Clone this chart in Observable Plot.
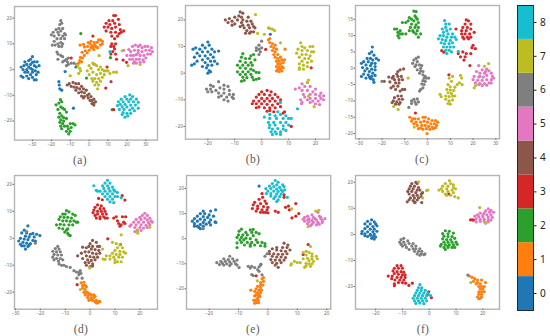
<!DOCTYPE html>
<html>
<head>
<meta charset="utf-8">
<script src="https://cdn.jsdelivr.net/npm/d3@7"></script>
<script src="https://cdn.jsdelivr.net/npm/@observablehq/plot@0.6"></script>
<style>
html,body{margin:0;padding:0;background:#fff;width:550px;height:336px;overflow:hidden}
#root{position:relative;width:550px;height:336px}
.p{position:absolute}
.cap{position:absolute;font-family:"Liberation Serif",serif;font-size:11.5px;color:#5a5a5a;transform:translateX(-50%);letter-spacing:.4px;line-height:12px}
</style>
</head>
<body>
<div id="root"></div>
<script>
const classes = [0,1,2,3,4,5,6,7,8];
const colors = ["#1f77b4","#ff7f0e","#2ca02c","#d62728","#8c564b","#e377c2","#7f7f7f","#bcbd22","#17becf"];

// Panel (a)
const a0 = [[-35,-3],[-33,-2.5],[-36,1],[-34,3],[-33,0],[-31,2],[-30,5],[-31,4],[-29,3],[-28,1],[-26.5,1.5],[-27,-1],[-28,-2],[-30,-3],[-29,-4],[-31,-2],[-32,1],[-30,0],[-29,1.5],[-33,2],[-35,0],[-34,-1],[-36,-2.5],[-32,-3.5],[-28,-4],[-27.5,3],[-32,3.5],[-30,-1],[-31,.5],[-28.5,-.5],[-34.5,1.5],[-32.5,-1],[-30,2.8],[-16,-4.7],[-15.8,-6],[-15.5,-7.5],[-14.5,-8],[-12.7,-.8],[-7,1],[-8.3,-15]];
const a1 = [[-6.7,2],[-5.5,2.5],[-5,3.5],[-4,3],[-4.6,4.7],[-3.5,4.5],[-3.7,6.7],[-2.5,5.5],[-2,7.3],[-1,6.5],[-.8,9],[0,7.5],[.5,10],[1,8.5],[1.6,9.3],[2.5,7.8],[2.7,10.5],[3.5,9],[4.2,10.6],[4.5,8.5],[5,11.5],[6,11.5],[6,9.5],[7,10],[7,11],[-4.8,9.5],[-3,9.8],[-.5,10.5],[1,11],[2,8.5],[-2.5,8.8],[3,9.5]];
const a2 = [[-15.2,-11.7],[-14.5,-12.5],[-16,-13],[-17.5,-13.7],[-15,-14.5],[-14,-15],[-16.5,-15.5],[-13,-15.5],[-15.5,-17],[-12,-16.5],[-14.5,-18],[-16,-18.5],[-13.5,-18.7],[-15,-19.5],[-13.5,-20],[-12,-19],[-15.5,-20.5],[-14,-21],[-15,-22],[-13,-22],[-10,-21],[-8.5,-21],[-7.5,-21.5],[-11.5,-22],[-14.5,-23],[-11,-23],[-12,-24],[-9.5,-22.5],[-10.8,-25],[-10,-24],[-4.4,14],[-1.4,-3.3],[11.3,4.6],[12.2,-15.6]];
const a3 = [[13,21],[14,21],[10.5,19],[12.5,19],[15.5,19.5],[9,18],[11,17.5],[13.5,18],[16,17.5],[8,16.5],[10,16.5],[12,16],[14,16.5],[16.5,15.5],[9,15],[11.5,14.5],[14,14.5],[17,14.5],[18.3,15],[12,13],[15,13],[16,14],[13.5,12],[14,10],[12,10],[13,9],[11.5,9],[13.5,8],[12.5,7],[11.5,6],[14,6],[14.5,4],[2,13],[-9.5,4.5],[9.5,1],[8.8,-7.2],[13,-15.6],[18,3.7],[19.8,2.8]];
const a4 = [[-11.6,-6],[-10.5,-5.5],[-9.5,-6.5],[-8.5,-5],[-8,-6.8],[-7,-5.5],[-6.5,-7],[-5.5,-5.5],[-5,-7.5],[-4,-6.5],[-7,-8],[-5.5,-9],[-4,-8.7],[-3,-7.5],[-2.5,-9],[-1.5,-8],[-4,-10.3],[-2.5,-10.5],[-1,-10],[0,-9.5],[-.5,-11],[1,-10.5],[.5,-12],[1.5,-12],[2.5,-11.5],[2.5,-13],[3.4,-12.5],[1.5,-13.2],[2.5,-13.8],[-3,-11],[11.6,-4.7]];
const a5 = [[18.3,7.5],[21,7.8],[22,7],[23,9],[24.5,9.5],[26,9],[27,9.5],[28,8.5],[29.5,9],[31,9],[33,8.5],[33.5,7],[32,7.5],[30,7.5],[28,7],[26,7.5],[24,7.5],[22,5.5],[23.5,5.5],[25,5.8],[27,5.5],[29,5.5],[31,6],[32.5,6],[21.5,4],[23,4],[25,4],[26.5,4],[28.5,3.8],[30,4.5],[23.5,2.5],[25,2.5],[24,3],[27,2.8],[29,3],[20,5.5],[26,6.5]];
const a6 = [[-15,19],[-14.5,18],[-15.5,17.5],[-14,16],[-16,16],[-17.5,15.5],[-15,15],[-19,14.5],[-16.5,14.5],[-20,13.5],[-13,14],[-16,13.5],[-14,13],[-18.5,13],[-12.5,13.5],[-15,12],[-17,12],[-13,12],[-18.5,11],[-15,10.5],[-16.5,10],[-14,10],[-19.5,9.5],[-18,9.5],[-14.5,9],[-16,9],[-17,6.8],[-16.5,6],[-15,5.5],[-14,5],[-16.5,4],[-13,3.5],[-12,4],[-11,4.5],[-14,3],[-11.5,3],[-11,2],[-9.5,2.5],[-8,2.5],[-12,1.5],[2.6,2.1]];
const a7 = [[-6,1.5],[-5,.5],[-4.5,-.5],[-5.5,-1.5],[-1,-.5],[0,1.5],[1,.5],[2,2.5],[3,2],[4,1.5],[5.3,5.4],[5,0],[6,1],[7,0],[8,-.5],[9,-.5],[10,-.5],[13,-1],[14.5,-1],[11,-1.5],[0,-2],[2,-1],[4,-2],[6,-1.5],[8,-2],[1.5,-3.5],[3,-3.5],[5,-3.5],[7,-3],[2,-4.5],[4,-5],[6,-4.5],[3,-6],[5,-6],[4.5,-7.5],[17.5,7.3],[20.6,1.5],[27,2],[-10,-2.4]];
const a8 = [[21.5,-9.8],[23,-10.5],[19,-10.5],[17,-11.5],[20,-11.5],[22,-11.5],[25,-11.5],[15.5,-12.5],[18,-12.5],[21,-12.5],[23.5,-12.5],[26,-12.7],[16.5,-13.5],[19,-13.5],[22,-13.8],[24.5,-13.8],[15,-14],[17.5,-14.5],[20,-14.5],[23,-15],[26,-15],[16,-15.5],[18.5,-15.5],[21.5,-15.7],[24,-16],[18,-16.7],[20,-17],[22,-17],[19,-18.5],[20.5,-18],[17.5,-17.5],[11,7]];

// Panel (b)
const b0 = [[-20,11.7],[-19.5,10.5],[-22,10.5],[-24.5,9.5],[-25.5,9],[-23,9],[-21,9.5],[-18.5,9],[-17.5,8],[-20,8],[-22,8],[-16,8.3],[-24,7.5],[-19,7],[-21,6.5],[-23,6.5],[-25,6],[-18,6],[-20,5.5],[-22,5],[-24,4.5],[-19,4.5],[-21,4],[-17.5,4.5],[-25,3.5],[-26,3],[-20,3],[-18.5,3],[-22,2.5],[-16.5,3.5],[-20.5,2],[-19.5,1],[-20,0],[-19,.5],[3.2,14.6]];
const b1 = [[2.5,12.5],[3,13],[3,11.5],[4,11],[3.5,10],[4.5,9.5],[5,10.5],[4,8.5],[5,8],[5.5,9],[8.7,9],[4.5,7],[6,7],[5,6],[6,5.5],[7,6],[5.5,4.5],[6.5,4.5],[7.5,5],[8.5,5],[6,3.5],[7,3.5],[8,4],[5.5,2.5],[6.5,2.5],[7.5,2.5],[6,1.5],[7,1.5],[5.5,.8],[6.5,.6],[7.5,.8],[8,2]];
const b2 = [[-7,7.3],[-4,6.5],[-3,7],[-7.5,6],[-6,5.5],[-4.5,5.5],[-8,4.5],[-6,4],[-4,4],[-2.5,5],[-9,3],[-7,3],[-5,3],[-3.5,3],[-8,2],[-6,1.8],[-4,1.5],[-9,.5],[-7,.5],[-5,.5],[-3,1],[-8,-.5],[-6,-.5],[-4,-.5],[-2,.3],[-1,.2],[-7,-1.5],[-5.5,-1.7],[-3.5,-1.5],[-7.5,-3],[-6.5,-2.7],[-3,-2.5],[-2,-2.3],[-1,-2]];
const b3 = [[0,-7],[2,-6.5],[3.5,-7],[-1,-8],[1,-8],[3,-8.3],[5,-8],[-2,-9],[0,-9.5],[2,-9.5],[4,-9.5],[6,-9],[-3,-10.5],[-1,-10.5],[1,-10.5],[3,-10.5],[5,-10.5],[7,-10],[-3.5,-11.5],[-2,-11.5],[0,-11.5],[2,-11.7],[4,-12],[6,-11.5],[-2,-13],[-1,-12.7],[1,-13],[3,-13],[5,-13],[3,-14],[2,-14.3],[4.5,-14.5],[1.5,8.9],[7,-12.6],[8.5,-14.5],[8,-15],[11,-20],[18.4,2]];
const b4 = [[-8,23],[-7,22.5],[-8.5,21.5],[-7.5,21],[-10,21],[-12,20.5],[-13.5,20],[-9,20],[-11,19.5],[-7,20],[-5,21],[-12.5,19],[-10,18.5],[-7.5,19],[-5.5,19.5],[-4,19.5],[-3.5,18.5],[-11,18],[-7,18],[-5,18],[-3,17.5],[-6.5,17],[-4.5,17],[-2.5,17],[-5.5,16],[-4,15.5],[-3,15.5],[-6,15],[-4.5,15],[-8,17.5]];
const b5 = [[17,-3.5],[15,-4],[16,-5],[12.5,-6],[14,-5.5],[18,-5],[20,-6],[15,-6.5],[17,-6.5],[19,-7],[22,-7.5],[15.5,-8],[18,-8],[20,-8],[21.5,-8.5],[23,-8.5],[16,-9],[18,-9.5],[20,-9.5],[22,-9.5],[23,-10],[14.5,-10],[17,-10],[19,-10.5],[21,-10.5],[15,-11],[14.8,-11.5],[20,-11.5],[18,-11],[21.5,-11.8]];
const b6 = [[-16,-3.2],[-14,-4.5],[-12.5,-5],[-19,-4.5],[-18,-5],[-15.5,-5.5],[-20.5,-6],[-19,-6],[-17,-6.5],[-14,-6],[-12,-6.5],[-20,-7],[-18.5,-7],[-16,-7.5],[-14,-7.5],[-12,-8],[-10.5,-8],[-15,-8.5],[-13,-9],[-11,-9],[-16,-9],[-14,-10],[-12.5,-10.5],[-10.5,-9.5],[-0,12],[-1,10.5],[-2,9.5],[-1,9],[-2,8.5],[-.5,8],[-1,7],[0,9.5]];
const b7 = [[14.5,11.4],[15,10],[16,9.5],[18,10],[19,10],[13.5,9],[15,8.5],[17,8.5],[18.5,8],[19.3,8],[13,7.5],[15,7],[16.5,7],[18,6.5],[14,6],[16,5.5],[17.5,5.5],[15,4.5],[17,4],[18.5,4.5],[14,3.5],[15.5,3],[17,2.5],[14,2],[14,1.5],[15.5,1.5],[-2.3,22],[-1.5,14.9],[1,14.6],[2.5,17],[3,16.8],[4,16.5],[4.8,16],[7,11.4],[17.4,-2.6],[17,-3.5],[17.4,-8.6],[19.5,-12.6]];
const b8 = [[6,-14.5],[3,-15.5],[5,-16],[7,-15.5],[9,-16],[1,-16.5],[3,-17],[5.5,-17],[8,-17],[10,-17],[11,-17],[2.5,-18.5],[4.5,-18.5],[7,-18.5],[9,-18.5],[3,-19.5],[5,-19.5],[8,-19.8],[10,-19.5],[2.8,-20.5],[4,-21],[6,-20.8],[8,-21],[3.5,-22],[5,-22],[7,-22],[9,-21.5],[4,-23],[5.5,-22.8],[7,-23],[13.3,-13.4],[7,-11]];

// Panel (c)
const c0 = [[-24.2,6.5],[-24.5,5],[-25.5,4.5],[-23.5,4],[-25,3],[-26.5,3],[-24,2.5],[-22.5,3],[-28,2],[-26,2],[-24.5,1.5],[-23,1.5],[-29,1.5],[-27,1],[-25,.8],[-23,.5],[-21.5,2.5],[-28.5,.2],[-26.5,-.1],[-24.5,-.3],[-23,-.5],[-27.5,-.8],[-25.5,-1],[-24,-1.5],[-28,-1.8],[-26,-2],[-24.5,-2.5],[-23,-2.2],[-29,-2.5],[-25,-3.2],[-27,-3],[-23.8,-3.5],[-23.5,-4.3],[-25.5,-2.7]];
const c1 = [[-7.8,-15],[-6.5,-15.5],[-5.5,-15.5],[-4,-15.5],[-2,-15],[-1,-15],[.5,-15.5],[2,-16],[3.5,-16],[4.5,-16.5],[-7,-16.2],[-5,-16.5],[-3,-16.5],[-1.5,-16.2],[0,-16.5],[1.5,-17],[3,-17],[4,-17.5],[-6,-17],[-4.5,-17.5],[-2.5,-17.5],[-1,-17.5],[.5,-17.8],[2,-18],[3.5,-18.2],[-4,-18.5],[-2,-18.7],[-.5,-18.5],[1,-18.7],[2.5,-18.5],[-3,-18.3],[-.2,-20]];
const c2 = [[-6,17.5],[-5,17.3],[-5.5,16],[-5,15.5],[-8,15.5],[-7,15],[-4.5,15],[-8.5,14.5],[-6,14.5],[-4,14],[-9.5,14],[-11,14],[-7,13.5],[-5,13.3],[-7.5,12.5],[-5.5,12.5],[-4,12.5],[-6.5,11.5],[-4.5,11.5],[-14.5,12],[-13.5,12],[-13,11],[-12,11.5],[-8,11.5],[-6,11],[-5,10.5],[-13,10],[-12,10.5],[-11,10.5],[-9.5,10.5],[-4,9.5],[-3,10.5],[-12.5,9.3]];
const c3 = [[17,14.8],[18,14.5],[16.5,13.5],[19,13.5],[12.5,12],[15.5,12.5],[17.5,12.5],[15,11.5],[17,11.5],[19,12],[20.5,11],[15,10.5],[16.5,10.5],[18.5,10.5],[15.5,9.5],[17.5,9.5],[19,9.5],[16,9],[18,9],[20,7],[19.5,6.3],[21,6],[15.5,5],[13.5,4.5],[17,4.5],[19,4.5],[14.5,3.5],[16.5,3.5],[16,2.5],[18.6,.8],[9.4,-2],[-5.3,-13.7],[6.2,5.4],[7.2,4.9]];
const c4 = [[-12,-.5],[-10.5,-.2],[-13,-1],[-13.5,-1.8],[-15,-2.5],[-13,-2.5],[-17,-2.7],[-15.5,-3],[-11.5,-2.5],[-14.5,-3.5],[-12.5,-3.5],[-19,-4],[-16.5,-4.2],[-14,-4.5],[-12.5,-4.5],[-11,-3.5],[-15,-5.5],[-13,-5.5],[-16,-6],[-14,-6.5],[-11,-6.5],[-10,-6.5],[-12,-7],[-13,-8.5],[-11.5,-8.5],[-14.5,-9],[-12.5,-9.5],[-11,-9.5],[-15,-10],[-13.5,-10.3],[-12,-10.5],[-14,-11],[-12.5,-11],[-15.5,-10.5]];
const c5 = [[22.5,.8],[24,-.5],[26,-.3],[21.5,-1],[23,-1.5],[25,-1.5],[27,-.8],[28,-1.5],[20.5,-2.5],[22.5,-2.7],[24.5,-2.7],[26,-2.2],[28.5,-2.5],[20,-3.5],[22,-3.7],[24,-3.7],[26,-3.5],[28,-3.5],[29,-3],[21,-4.5],[23,-4.7],[25,-4.7],[27,-4.5],[28,-4.5],[24,-5.3],[26,-5.2],[22.5,-5],[23,-2.5],[25.5,-1]];
const c6 = [[-4,3.4],[-5,3],[-6,2.5],[-4.5,2],[-6.5,1.5],[-5,1],[-3.5,1],[-2.5,.8],[-5.5,.5],[-3,0],[-4.5,-.5],[-3,-.8],[-2,-1],[-3.5,-1.5],[-2,-2],[-1,-2.5],[-1.5,-3],[-.5,-3],[.5,-3],[-2,-3.8],[-1,-4],[-2.5,-4.8],[-1.5,-5],[-2,-6],[-3,-6.5],[-3.5,-7],[-6,-9.5],[-4.5,-9.4],[-7,-10],[-5.5,-10.3],[-4,-10.3],[-7,-10.8],[-5,-11],[-8.2,-12],[-20,-4]];
const c7 = [[11,-2.5],[14.5,-2.2],[15,-3],[9.5,-3],[10.5,-4],[14,-4.5],[15.2,-5],[13,-5],[9,-5],[10,-5.7],[12,-5.8],[8.5,-6.5],[10,-6.7],[11.5,-6.8],[9,-7.5],[10.5,-7.7],[5.5,-8],[6,-8.7],[8,-8.5],[9.5,-8.7],[11,-8.5],[12,-8.5],[8,-9.5],[9.5,-10],[11,-9.7],[10,-11],[9,-10.8],[-8.5,-3],[-14.8,-11.7],[-12.9,-12.6],[25,.6],[26.8,1.4],[21.1,-5.3],[20.5,-6],[-5.8,-18]];
const c8 = [[7.5,14.6],[8,13.5],[8,12.5],[9.5,13.5],[6.5,12],[8.5,11.5],[10,12],[7,11],[9,10.5],[11,10.5],[5.5,10],[7,10],[8.5,9.5],[10.5,9.5],[12,9.5],[4.8,9],[6.5,8.8],[8,8.5],[10,8.5],[12.6,8.8],[6,7.8],[7.5,7.5],[9.5,7.5],[11,7.8],[7,6.5],[8.5,6.5],[10,6.5],[11.5,6.5],[8,5.5],[9.5,5.5],[8.5,4.5],[10.5,5],[13.5,5.2]];

// Panel (d)
const d0 = [[-25,4.6],[-26.5,3],[-27.5,2],[-25.5,2],[-24,1.5],[-23,1.8],[-21.5,1.5],[-20.2,1],[-26,.8],[-24.5,.5],[-22.5,.5],[-28,0],[-26.5,-.3],[-25,-.5],[-23,-.8],[-28.7,-1],[-27,-1.5],[-25.5,-1.8],[-24,-2],[-22,-1],[-28,-2.2],[-26.5,-2.8],[-25,-3],[-26,-4],[-24.5,-2.5],[-27.5,-2.8]];
const d1 = [[-3.6,-16.5],[-2.5,-16.3],[-3,-17.5],[-2,-17.5],[-3,-18.5],[-2,-19],[-1.5,-18],[-2.5,-20],[-1.2,-20],[-.3,-20.5],[-2,-21],[-.8,-21.2],[.5,-21],[1.5,-21],[-1,-22],[.5,-22],[1.5,-22],[2,-21.5],[0,-22.7],[1,-23],[2,-23.5],[2.5,-23],[3,-24],[3.5,-23.5],[3.9,-23.5],[2.5,-24],[-.5,-23],[-1.8,-20.2]];
const d2 = [[-9.5,10.3],[-8.5,9.8],[-11,9],[-10,9],[-7,9],[-6,8.5],[-12,8],[-10.5,7.8],[-9,7.8],[-7.5,7.5],[-12.5,7],[-11,6.5],[-9.5,6.5],[-8,6.3],[-6.5,6.5],[-5.5,6],[-13.5,5],[-12,5.2],[-10.5,5],[-8.5,5],[-7,5],[-12.5,3.8],[-11,3.5],[-9,3.5],[-10.2,2.3],[-9,1.8],[-8.5,1.2],[-8,1],[-9.5,3],[-5,6]];
const d3 = [[3,12.4],[4.5,12],[2,11.5],[4,11],[5.5,11],[1.5,10.5],[3,10],[4.5,10],[6,10],[1.2,9.5],[3,9],[5,9],[6.5,9],[2,8.5],[4,8],[5.5,8],[2.5,7.5],[4,7.3],[6,7.5],[6.9,7.5],[9.5,7.5],[10.5,8],[13,8],[14.3,8],[11,6.5],[13.5,6],[11.5,5.5],[12.5,5],[14,5.5],[12,4.5],[3.4,14.8],[4.9,14.3],[12.9,15.8],[14,14.2],[7.1,-.2],[12.2,-2.3],[-5.2,-17.2]];
const d4 = [[1,-.8],[2.5,-1.5],[0,-2],[-.5,-3],[1,-3],[3,-3],[3.8,-3],[-3,-3.3],[-1.5,-3.5],[.5,-4],[2,-4.2],[3.5,-4.5],[-2,-5],[-.5,-5],[1,-5.5],[2.5,-5.8],[3.9,-5.5],[-1.5,-6.5],[0,-6.8],[1.5,-7],[3,-7],[-3,-7.5],[-1,-8],[.5,-8.2],[2,-8],[-2,-9],[-.5,-9],[1,-9.5],[-1.5,-10],[-0,-10.5],[1,-10.3],[-3.5,-5.5],[-5,-6.5]];
const d5 = [[22,9.3],[21,8.5],[23,8.5],[20,7.8],[22,7.5],[24,7.5],[18.5,7],[20.5,7],[23,6.8],[24.5,6.5],[17.5,6],[19.5,6],[21.5,6],[23.5,5.8],[25,6],[16.5,5],[18.5,5],[20.5,5],[22.5,4.8],[24,5],[16,4.5],[18,4],[20,4],[21.5,3.8],[23,4],[19,3],[20.5,2.9],[18,2.5]];
const d6 = [[-13,-3],[-14,-3.8],[-12.5,-4],[-15,-4.8],[-13.5,-5],[-12,-5],[-14.5,-6],[-13,-6.2],[-11.5,-6.2],[-15,-7],[-13.5,-7.5],[-12,-7.5],[-14.5,-8],[-12.7,-8.5],[-11,-8],[-12.5,-9.5],[-11.5,-10],[-10.5,-10],[-9.5,-10.5],[-8,-10.8],[-6.5,-12],[-5.5,-12.5],[-4.5,-12.7],[-4,-12],[-3.7,-13],[-4.5,-13.5],[-5.3,-14.8],[-3.2,-14.8],[-25.5,2.5],[-22,-1.8]];
const d7 = [[12.5,1.3],[9,-1.5],[10.5,-2],[12,-2.5],[5,-4],[11,-3.5],[13,-3.5],[10,-4.5],[12,-4.8],[13.5,-5],[9,-5.5],[10.5,-6],[12,-6],[14.2,-5.5],[6.5,-6.5],[8,-6.5],[9.5,-7],[11.5,-7],[13,-7],[5.2,-7.7],[6,-7.8],[8,-7.7],[10,-8],[11,-8.7],[12.5,-8.7],[10,-9],[-.2,-11],[-3.9,-19],[19.2,1.9],[24,4.1],[19,2.6]];
const d8 = [[7,21.5],[6,20.5],[8,20.5],[5,19.5],[7,19.5],[9,19],[5.5,18.5],[7.5,18.5],[9.5,18],[2.5,17.8],[4,17.5],[6,17.5],[8,17.5],[10,17.5],[5,16.5],[7,16.5],[9,16.5],[11,17],[6,15.5],[8,15.5],[10,15.5],[7,14.5],[9,14.5],[8,13.5],[9.5,13.2],[11,15.5],[3,17.5],[12.5,15],[1.5,19.5]];

// Panel (e)
const e0 = [[-19.5,11],[-22,11],[-17.8,11.5],[-23,10],[-21.5,10],[-20,9.5],[-24,9],[-22,8.8],[-20.5,8.5],[-18.5,9],[-25,8],[-23,7.8],[-21.5,7.5],[-19.5,7.5],[-25.7,7],[-24,7],[-22,6.5],[-20,6.5],[-18,6.7],[-17.7,6.5],[-25,6],[-23,5.7],[-21,5.8],[-19.5,5.5],[-24,5],[-22,5],[-23.5,4.5],[-25,5],[-23,4],[-3,21],[-2.4,-10.2]];
const e1 = [[-1.5,-15.5],[-2,-16],[-1.5,-17],[-2.5,-17.5],[-2.5,-18.5],[-1.7,-18.5],[-3.5,-19],[-2.5,-19.5],[-5.8,-20.5],[-4,-20],[-3,-20.5],[-2.2,-20.5],[-4.5,-21],[-3.5,-21.5],[-2.5,-21.5],[-4,-22.3],[-3,-22.5],[-4.5,-22.8],[-3.5,-23.5],[-2.7,-23],[-4,-24.5],[-3.3,-24.5],[-4.8,-24.5],[-4,-25.5],[-3.2,-25.5],[-4.5,-25.7]];
const e2 = [[-9,3.8],[-6,3.5],[-5,3.7],[-9.8,3],[-7.5,2.5],[-5.5,2.5],[-4,2.5],[-3,2],[-10,1.5],[-8.5,1.5],[-7,1.5],[-5,1.2],[-10.5,.5],[-9,.5],[-7.5,.2],[-6,0],[-9.5,-.5],[-8.2,-.5],[-4,-.5],[-9,-1.5],[-7,-1.5],[-5.5,-1.5],[-10.5,-1.7],[-3.5,-1.5],[-2,-1.5],[-8,-2.5],[-6,-2.3],[-4.5,-2.5],[-1,-2],[-10.5,-3.5],[-6,-3],[-2.5,-2.8],[-1,-3]];
const e3 = [[-3,15.7],[-1,15],[-4.5,14.5],[-2.5,14],[-.5,14],[-5,13.5],[-3.5,13],[-1.5,12.8],[0,12.5],[-5.3,12],[-3.5,12],[-2,11.5],[-.3,11.5],[-4,11],[-2.5,10.5],[-.8,10.5],[0,10.3],[-1.5,10.5],[-2,18],[-1.8,16.5],[2.5,11],[3.5,10.5],[6,12.5],[7,13],[7.3,11.5],[8.2,8.3],[9.5,9],[10.5,10],[9.5,14],[5.5,17.5],[5.5,16.5],[13.7,-2.3],[12,-6.3],[-4,-14.8]];
const e4 = [[5.5,-1.8],[6.8,-2.5],[3,-3.5],[5,-3.5],[6.5,-3.5],[1.5,-4],[3,-4.5],[4.5,-4.8],[6,-5],[7.5,-4.5],[.5,-6],[2,-6],[3.5,-6.2],[5,-6.2],[6.5,-6],[1.5,-7],[3,-7.3],[4.5,-7.3],[6,-7.5],[1,-8.3],[2.5,-8.5],[4,-8.5],[5.5,-8.5],[1.5,-9.5],[3,-9.8],[4.5,-9.5],[2.5,-10.5],[3.5,-11.4],[.5,-5]];
const e5 = [[17,10.5],[15,9.5],[17.5,9],[18,8.5],[13.5,9],[15.5,8.5],[12.5,8.5],[14,8],[16,8],[18,8],[19.4,8],[12,7.8],[13.5,7.5],[15,7.3],[16.5,7.5],[18.5,7.3],[12.5,7],[14,6.8],[15.5,6.5],[17,6.5],[18.5,6.5],[13.5,6],[15,5.8],[16.5,5.5],[14.5,5.2],[17.5,5.8]];
const e6 = [[-13,-7],[-15,-8],[-13.5,-8.3],[-12,-8],[-10.5,-8.5],[-16,-9],[-14.5,-9],[-13,-9.2],[-11.5,-9],[-17.4,-9.5],[-15.5,-9.8],[-14,-10],[-12.5,-10],[-11,-10],[-16.5,-10.3],[-15,-10.5],[-13,-10.7],[-10.5,-10.5],[-9.8,-11.5],[-6.7,-11],[-5.5,-11],[-4.5,-11.5],[-3,-11.2],[-2.5,-10.5],[-6,-11.7],[-3.5,-12.3],[-3,-13],[-5.5,-14.3],[-5,-14.7],[-2,-14.4],[-22,4],[-1,-7],[-.3,-6]];
const e7 = [[14.5,-3.1],[13,-5],[12,-5.5],[14,-5.5],[15,-6],[13,-6.5],[15,-7],[16.5,-7],[13.5,-7.8],[15,-8],[16.8,-8],[12,-8],[14,-8.7],[15.5,-9],[13,-9.8],[14,-10],[15,-10],[13,-10.8],[14.5,-11],[12.5,-11.4],[9,-9],[10,-9.5],[11,-9.5],[8,-10],[7.8,-10.5],[8.1,11.9],[13.7,4.8],[16.3,11],[17.3,11.3],[-3.6,-16.8]];
const e8 = [[2.5,23.2],[3.5,22.5],[1.5,22],[3,21.5],[5,21.5],[.5,21],[2,20.8],[4,20.5],[5.5,20.8],[-.7,20],[1,20],[3,19.8],[4.5,19.5],[5.7,19.5],[0,19],[2,19],[3.5,18.8],[5,18.8],[-.5,18],[1,18],[3,17.8],[4.5,17.8],[1,17],[2.5,16.8],[4,16.8],[2,16],[3.5,15.5],[3,14.8],[6.6,16.5]];

// Panel (f)
const f0 = [[-21.5,5.6],[-23,5],[-20.5,4.8],[-24,4],[-22,4],[-20,4],[-23,3],[-21,3],[-19.5,3.3],[-24,2.2],[-22,2],[-20.5,2],[-25,1.2],[-23,1],[-21,1],[-19.5,1.2],[-25.2,.3],[-24,.2],[-22,0],[-20.5,0],[-24,-.5],[-23,-.8],[-21,-.8],[-20,-1],[-20.5,-1.8],[-21.5,-1.5],[-22,-.3],[-5.3,12.2]];
const f1 = [[15,-16],[16,-16.5],[17,-17],[16.5,-18],[18,-17.5],[19.5,-17.5],[18,-18.5],[19,-19],[21,-18.5],[18.5,-20],[19.5,-20],[19,-21],[20,-21],[20.5,-20],[18.5,-22],[19.5,-22],[20.5,-22],[18.5,-23],[19.5,-23],[18,-24],[19,-24.5],[18.5,-24.7],[19.5,-24],[17.5,-19]];
const f2 = [[6,1.4],[7.5,1.2],[5,.3],[7,.2],[9,.5],[5.5,-.7],[7,-.8],[8.5,-.8],[5,-1.7],[6.5,-2],[8,-2],[9.5,-1.5],[5.5,-3],[7,-3],[8.5,-3],[10,-3],[4.5,-3.8],[6,-4],[7.5,-4],[9,-4],[10.4,-3.8],[4.2,-4.5],[5.5,-5],[7,-5],[8.5,-5],[6,-5.8],[9.5,-5],[7,-4.5]];
const f3 = [[-12,-12],[-10.5,-12],[-13,-13],[-11.5,-13],[-10,-13],[-13.5,-14],[-12,-14.3],[-10.5,-14.3],[-9.5,-14.5],[-13,-15],[-11.5,-15.3],[-10,-15.5],[-9,-15.5],[-15.3,-16],[-13.8,-16],[-12,-16.5],[-10.5,-16.5],[-9,-16.5],[-14,-17],[-12.8,-17.5],[-11,-17.5],[-9.5,-17.5],[-11.5,-18.5],[-10,-18.5],[-8.8,-18.7],[-13,-19],[-13,-19.7],[-7.6,-19.6],[-6.3,-18.7],[15.4,5.6],[16,5.6],[16.5,5.5],[7.3,15.5],[-.2,-22],[.8,-24.3],[-.5,-23]];
const f4 = [[-5,20],[-6.5,19.5],[-4.5,19.5],[-7,18.5],[-5.5,18.5],[-4,18],[-7.5,17.5],[-6,17.5],[-4.5,17],[-3.5,17],[-8,16.5],[-6.5,16.5],[-5,16],[-3,15.5],[-2.5,16],[-7.5,15.5],[-6,15],[-4.5,15],[-7,14],[-5.5,14],[-4,14],[-3,14.5],[-7.5,13.3],[-6,13],[-4.5,13.2],[-8.2,12.5],[-5.5,12.3],[-2.8,12.2]];
const f5 = [[22,9.8],[23,9.2],[21,9],[22.5,8.5],[19,8.2],[20.5,8.2],[24,8.5],[18,7.5],[20,7.5],[21.5,7.5],[23,7.5],[17,7],[18.5,6.8],[20,6.8],[22,6.5],[23.5,6.5],[17.5,6],[19,5.8],[20.5,5.8],[22,5.5],[23,5.5],[19,5],[20.5,5],[22,4.8],[21,4.3],[17.5,4.8]];
const f6 = [[-10.5,-2],[-9.5,-1.5],[-11,-3],[-9.5,-3],[-8,-2.5],[-10.5,-3.8],[-9,-4],[-7.5,-3.5],[-6,-3.5],[-10,-4.5],[-8.5,-5],[-6.5,-4.5],[-5,-4.5],[-7.5,-5.8],[-6,-5.5],[-5,-5.5],[-3.5,-5.5],[-5.5,-6.5],[-4,-6.5],[-2.8,-6.5],[-4.5,-7.5],[-3,-7.5],[-2,-7.8],[-1.6,-7.5],[-3.5,-8],[14.4,-15.6]];
const f7 = [[7.5,20.6],[6,19.5],[8,19.5],[9,19],[5,18.5],[7,18.5],[9,18],[4.5,17.5],[6.5,17.5],[8.5,17],[9.8,17.5],[3.6,17],[5,16.5],[7,16.5],[9,16],[6,15.5],[8,15],[6.5,15],[9.5,14.5],[10.8,14],[-4,20.2],[-1,16.8],[-.5,17],[-2.5,14],[18.8,10.3],[21,4.5],[15.5,-18.5]];
const f8 = [[-3.5,-19.3],[-4,-20.5],[-2.8,-20.5],[-4.5,-21.5],[-3,-21.5],[-1.5,-21.5],[-5,-22.5],[-3.5,-22.5],[-2,-22.5],[-.5,-22.5],[-5.5,-23.5],[-4,-23.5],[-2.5,-23.5],[-1,-23.5],[-6,-24.5],[-4.5,-24.5],[-3,-24.5],[-1.5,-24.5],[-5.5,-25.5],[-4,-25.5],[-2.5,-25.5],[-1,-25.5],[-5,-26.5],[-3.5,-26.3],[-2,-26.6],[.5,-23.5]];

const xTicksA = [-30,-20,-10,0,10,20,30];
const xTicksD = [-30,-20,-10,0,10,20];
const xTicksShort = [-20,-10,0,10,20];
const yTicksAll = [20,10,0,-10,-20];
const yTicksC = [15,10,5,0,-5,-10,-15,-20];
const captions = ["(a)","(b)","(c)","(d)","(e)","(f)"];

const panels = [
  {series:[a0,a1,a2,a3,a4,a5,a6,a7,a8], fx:14, fy:5.7, fw:143, fh:133.6, xd:[-39.5,36.2], yd:[-27.4,24.5], xt:xTicksA, yt:yTicksAll, cx:80, cy:154},
  {series:[b0,b1,b2,b3,b4,b5,b6,b7,b8], fx:185.3, fy:5.3, fw:144, fh:133.7, xd:[-28.3,25.2], yd:[-24.8,25.4], xt:xTicksShort, yt:yTicksAll, cx:253, cy:153},
  {series:[c0,c1,c2,c3,c4,c5,c6,c7,c8], fx:355, fy:5, fw:144, fh:133.3, xd:[-31.6,31.6], yd:[-21.6,19.2], xt:xTicksA, yt:yTicksC, cx:422, cy:153},
  {series:[d0,d1,d2,d3,d4,d5,d6,d7,d8], fx:14, fy:175, fw:143, fh:133.7, xd:[-30.4,27.1], yd:[-26.3,23.3], xt:xTicksD, yt:yTicksAll, cx:81, cy:323},
  {series:[e0,e1,e2,e3,e4,e5,e6,e7,e8], fx:185.7, fy:175, fw:144.3, fh:133.7, xd:[-27.7,21.4], yd:[-28.1,25.2], xt:xTicksShort, yt:yTicksAll, cx:253, cy:323},
  {series:[f0,f1,f2,f3,f4,f5,f6,f7,f8], fx:355, fy:175, fw:144, fh:133.7, xd:[-27.5,26.2], yd:[-28.7,22.6], xt:xTicksShort, yt:yTicksAll, cx:423, cy:323}
];

const root = document.getElementById("root");
const ml = 14, mr = 3, mt = 4, mb = 10;
const minusFormat = d => String(d).replace("-", "\u2212");

panels.forEach((p, i) => {
  const rows = p.series.flatMap((pts, c) => pts.map(([x, y]) => ({x, y, c})));
  const chart = Plot.plot({
    width: p.fw + ml + mr,
    height: p.fh + mt + mb,
    marginLeft: ml, marginRight: mr, marginTop: mt, marginBottom: mb,
    x: {domain: p.xd},
    y: {domain: p.yd},
    color: {type: "ordinal", domain: classes, range: colors},
    style: {background: "transparent"},
    marks: [
      Plot.dot(rows, {x: "x", y: "y", fill: "c", r: 1.6, stroke: "none"}),
      Plot.frame({stroke: "#b4b4b4", strokeWidth: 1.4}),
      Plot.axisX({ticks: p.xt, tickSize: 1.5, tickPadding: 1, fontSize: 4.5, label: null, color: "#666", tickFormat: minusFormat}),
      Plot.axisY({ticks: p.yt, tickSize: 1.5, tickPadding: 1, fontSize: 4.5, label: null, color: "#666", tickFormat: minusFormat})
    ]
  });
  const w = document.createElement("div");
  w.className = "p";
  w.style.left = (p.fx - ml) + "px";
  w.style.top = (p.fy - mt) + "px";
  w.appendChild(chart);
  root.appendChild(w);
  const cap = document.createElement("div");
  cap.className = "cap";
  cap.style.left = p.cx + "px";
  cap.style.top = p.cy + "px";
  cap.textContent = captions[i];
  root.appendChild(cap);
});

const bar = Plot.plot({
  width: 33, height: 305 + 4,
  marginLeft: 0, marginRight: 17, marginTop: 2, marginBottom: 2,
  x: {domain: [0, 1], axis: null},
  y: {domain: [-0.5, 8.5]},
  color: {type: "ordinal", domain: classes, range: colors},
  style: {background: "transparent"},
  marks: [
    Plot.rect(classes, {x1: () => 0, x2: () => 1, y1: d => d - 0.5, y2: d => d + 0.5, fill: d => d}),
    Plot.frame({stroke: "#1c2b3a", strokeWidth: 1}),
    Plot.axisY({anchor: "right", ticks: classes, tickSize: 2.5, tickPadding: 4, fontSize: 10, label: null, color: "#222", tickFormat: d => String(d)})
  ]
});
const bw = document.createElement("div");
bw.className = "p";
bw.style.left = "517px";
bw.style.top = "3px";
bw.appendChild(bar);
root.appendChild(bw);
</script>
</body>
</html>
